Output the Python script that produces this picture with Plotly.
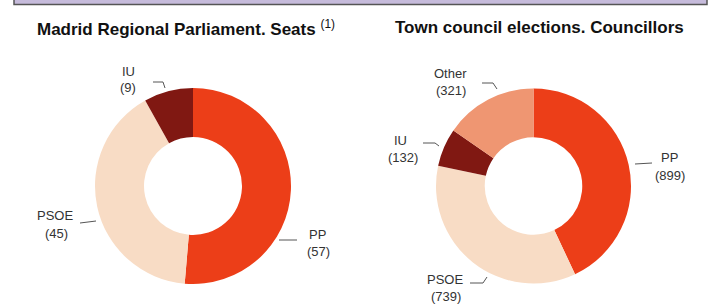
import plotly.graph_objects as go

W, H = 716, 305

# Data
left_labels = ["PP", "PSOE", "IU"]
left_values = [57, 45, 9]
right_labels = ["PP", "PSOE", "IU", "Other"]
right_values = [899, 739, 132, 321]

left_title = "Madrid Regional Parliament. Seats"
left_note = "(1)"
right_title = "Town council elections. Councillors"

colors = {"PP": "#ec3e18", "PSOE": "#f8dcc5", "IU": "#801812", "Other": "#ef9672"}


def px(x):
    return x / W


def py(y):
    return 1 - y / H


fig = go.Figure()

fig.add_trace(go.Pie(
    labels=left_labels, values=left_values, hole=0.5, sort=False,
    direction="clockwise", rotation=0, textinfo="none", hoverinfo="label+value",
    marker=dict(colors=[colors[l] for l in left_labels], line=dict(width=0)),
    domain=dict(x=[px(95), px(291)], y=[py(284), py(88)]),
    showlegend=False,
))
fig.add_trace(go.Pie(
    labels=right_labels, values=right_values, hole=0.5, sort=False,
    direction="clockwise", rotation=0, textinfo="none", hoverinfo="label+value",
    marker=dict(colors=[colors[l] for l in right_labels], line=dict(width=0)),
    domain=dict(x=[px(436), px(631)], y=[py(283.5), py(88.5)]),
    showlegend=False,
))

shapes = []
annotations = []

# Banner at top
shapes.append(dict(type="rect", xref="paper", yref="paper",
                   x0=px(14), x1=px(707), y0=py(4.5), y1=py(-6),
                   fillcolor="#c6bbdb", line=dict(color="#555555", width=1.5)))

title_font = dict(family="Liberation Sans, Arial", size=17, color="#111111")
# Titles
annotations.append(dict(x=px(186), y=py(28), xref="paper", yref="paper",
                        text="<b>" + left_title + "</b> <sup>" + left_note + "</sup>",
                        showarrow=False, font=title_font,
                        xanchor="center", yanchor="middle"))
annotations.append(dict(x=px(539), y=py(28), xref="paper", yref="paper",
                        text="<b>" + right_title + "</b>",
                        showarrow=False, font=title_font,
                        xanchor="center", yanchor="middle"))

lab_font = dict(family="Liberation Sans, Arial", size=13, color="#333333")


def text(t, x, y):
    annotations.append(dict(x=px(x), y=py(y), xref="paper", yref="paper",
                            text=t, showarrow=False, font=lab_font,
                            xanchor="center", yanchor="middle", align="center"))


def label(name, value, x1, y1, x2, y2):
    text(name, x1, y1)
    text(f"({value})", x2, y2)


def leader(points):
    path = "M " + " L ".join(f"{px(x)},{py(y)}" for x, y in points)
    shapes.append(dict(type="path", xref="paper", yref="paper", path=path,
                       line=dict(color="#555555", width=1)))


lv = dict(zip(left_labels, left_values))
rv = dict(zip(right_labels, right_values))

label("IU", lv["IU"], 128, 71, 128, 87)
leader([(153, 82), (163, 82), (165, 88)])
label("PSOE", lv["PSOE"], 55, 215, 56, 233)
leader([(80, 223), (96, 221)])
label("PP", lv["PP"], 317, 234, 318, 251)
leader([(279, 240), (297, 240)])

label("Other", rv["Other"], 450, 73, 451, 90)
leader([(482, 83), (493, 83), (497, 89)])
label("IU", rv["IU"], 400, 140, 403, 157)
leader([(423, 143), (435, 143), (439, 146)])
label("PP", rv["PP"], 669, 157, 670, 175)
leader([(635, 164), (652, 163)])
label("PSOE", rv["PSOE"], 445, 279, 446, 296)
leader([(470, 283), (483, 283), (487, 277)])

fig.update_layout(
    width=W, height=H, margin=dict(l=0, r=0, t=0, b=0),
    paper_bgcolor="white", plot_bgcolor="white",
    shapes=shapes, annotations=annotations,
)

fig.write_html("out.html", config={"displayModeBar": False},
               post_script="document.body.style.margin='0';")
